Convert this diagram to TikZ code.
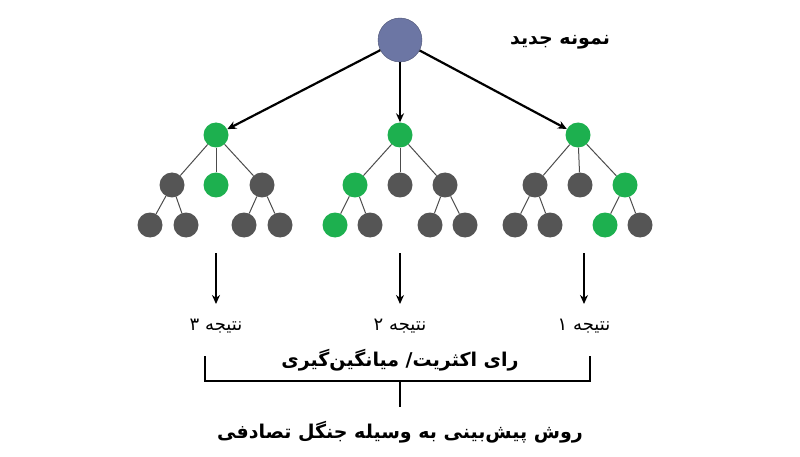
\documentclass[tikz,border=0pt]{standalone}
\usepackage{fontspec}
\usetikzlibrary{arrows.meta}
\newfontfamily\fafont[Script=Arabic]{DejaVu Sans}
\TeXXeTstate=1
\definecolor{nodegray}{HTML}{555555}
\definecolor{nodegreen}{HTML}{1DB04F}
\definecolor{sampleblue}{HTML}{6C76A4}
\begin{document}
\begin{tikzpicture}[x=1pt,y=-1pt,
  leaf/.style={circle,fill=nodegray,minimum size=25pt,inner sep=0pt},
  hit/.style={circle,fill=nodegreen,minimum size=25pt,inner sep=0pt},
  branch/.style={draw=black!70,line width=1pt},
  vote/.style={-{Stealth[length=9pt,width=8pt]},line width=2.2pt},
  fatext/.style={font=\fafont\fontsize{18}{20}\selectfont},
  fabold/.style={font=\fafont\bfseries\fontsize{19}{21}\selectfont}]
\useasboundingbox (0,0) rectangle (800,457);

%new sample
\node[circle,fill=sampleblue,draw=sampleblue!70!black,minimum size=44pt,inner sep=0pt] (sample) at (400,40) {};
\node[fabold] (sampletxt) at (560,42) {\beginR نمونه جدید\endR};

%tree 3 (left)
\node[hit] (a) at (216,135) {};
\node[leaf] (a1) at (172,185) {};
\node[hit] (a2) at (216,185) {};
\node[leaf] (a3) at (262,185) {};
\node[leaf] (a11) at (150,225) {};
\node[leaf] (a12) at (186,225) {};
\node[leaf] (a31) at (244,225) {};
\node[leaf] (a32) at (280,225) {};

%tree 2 (middle)
\node[hit] (b) at (400,135) {};
\node[hit] (b1) at (355,185) {};
\node[leaf] (b2) at (400,185) {};
\node[leaf] (b3) at (445,185) {};
\node[hit] (b11) at (335,225) {};
\node[leaf] (b12) at (370,225) {};
\node[leaf] (b31) at (430,225) {};
\node[leaf] (b32) at (465,225) {};

%tree 1 (right)
\node[hit] (c) at (578,135) {};
\node[leaf] (c1) at (535,185) {};
\node[leaf] (c2) at (580,185) {};
\node[hit] (c3) at (625,185) {};
\node[leaf] (c11) at (515,225) {};
\node[leaf] (c12) at (550,225) {};
\node[hit] (c31) at (605,225) {};
\node[leaf] (c32) at (640,225) {};

\foreach \t in {a,b,c}{
  \draw[branch] (\t) -- (\t1);
  \draw[branch] (\t) -- (\t2);
  \draw[branch] (\t) -- (\t3);
  \draw[branch] (\t1) -- (\t11);
  \draw[branch] (\t1) -- (\t12);
  \draw[branch] (\t3) -- (\t31);
  \draw[branch] (\t3) -- (\t32);
}

\draw[vote] (sample) -- (a);
\draw[vote] (sample) -- (b);
\draw[vote] (sample) -- (c);

%results
\coordinate (ta) at (216,253);
\coordinate (tb) at (400,253);
\coordinate (tc) at (584,253);
\node[fatext] (ra) at (216,326) {\beginR نتیجه ۳\endR};
\node[fatext] (rb) at (400,326) {\beginR نتیجه ۲\endR};
\node[fatext] (rc) at (584,326) {\beginR نتیجه ۱\endR};
\draw[vote] (ta) -- (ra.north|-0,304);
\draw[vote] (tb) -- (rb.north|-0,304);
\draw[vote] (tc) -- (rc.north|-0,304);

\node[fabold] (vote) at (400,360) {\beginR رای اکثریت/ میانگین‌گیری\endR};
\coordinate (bl) at (205,356);
\coordinate (br) at (590,356);
\coordinate (bm) at (400,381);
\coordinate (bd) at (400,407);
\draw[line width=1.2pt] (bl) |- (bm) -| (br);
\draw[line width=1.2pt] (bm) -- (bd);
\node[fabold] (method) at (400,432) {\beginR روش پیش‌بینی به وسیله جنگل تصادفی\endR};
\end{tikzpicture}
\end{document}
